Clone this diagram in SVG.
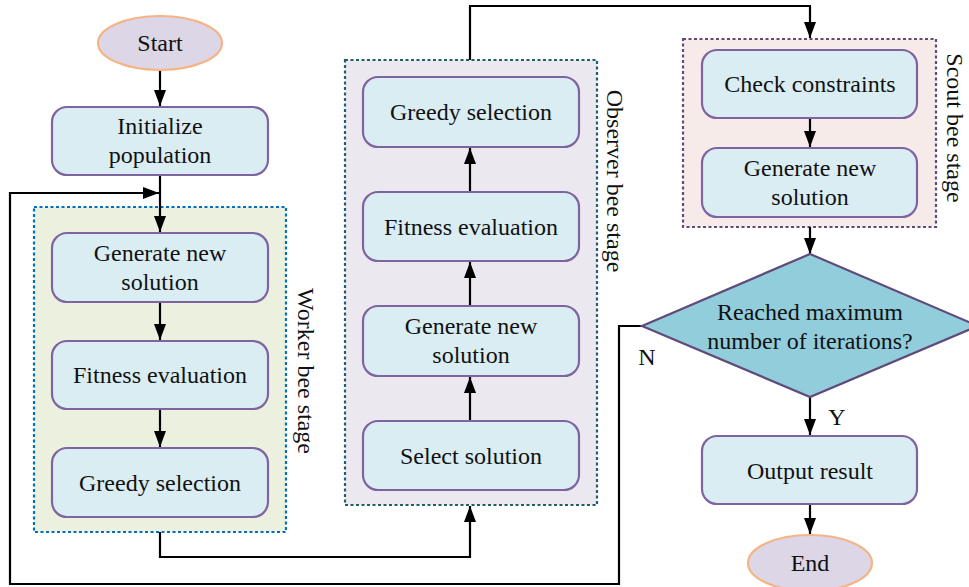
<svg xmlns="http://www.w3.org/2000/svg" width="969" height="587" viewBox="0 0 969 587">
<style>
text{font-family:"Times New Roman",Times,"Liberation Serif",Tinos,"Noto Serif","DejaVu Serif",serif;font-size:24px;fill:#111;text-anchor:middle}
.box{fill:#daedf3;stroke:#8064a2;stroke-width:2.2}
.term{fill:#dcd6e6;stroke:#f5b486;stroke-width:2.2}
.conn{fill:none;stroke:#000;stroke-width:2.2}
</style>
<defs>
<marker id="ah" markerUnits="userSpaceOnUse" markerWidth="17" markerHeight="13" refX="16" refY="6" orient="auto">
<path d="M0,0 L16,6 L0,12 z" fill="#000"/>
</marker>
</defs>
<g id="stages">
<g id="worker-stage">
<rect x="34" y="207" width="252" height="325" fill="#ebf1de" stroke="#0070c0" stroke-width="2.2" stroke-dasharray="3 2.5"/>
<text transform="translate(298,371) rotate(90)">Worker bee stage</text>
</g>
<g id="observer-stage">
<rect x="345" y="60" width="252" height="445" fill="#ece8f0" stroke="#215f6e" stroke-width="2.2" stroke-dasharray="3 2.5"/>
<text transform="translate(607,181) rotate(90)">Observer bee stage</text>
</g>
<g id="scout-stage">
<rect x="683" y="39" width="253" height="188" fill="#f7ebea" stroke="#5f4a7a" stroke-width="2.2" stroke-dasharray="3 2.5"/>
<text transform="translate(947,128) rotate(90)">Scout bee stage</text>
</g>
</g>
<g id="connectors">
<path class="conn" d="M160,70 L160,106" marker-end="url(#ah)"/>
<path class="conn" d="M160,175 L160,232" marker-end="url(#ah)"/>
<path class="conn" d="M642,326 L619,326 L619,584 L10,584 L10,193 L159,193" marker-end="url(#ah)"/>
<path class="conn" d="M160,302 L160,340" marker-end="url(#ah)"/>
<path class="conn" d="M160,409 L160,447" marker-end="url(#ah)"/>
<path class="conn" d="M160,532 L160,557 L470,557 L470,506" marker-end="url(#ah)"/>
<path class="conn" d="M470,421 L470,377" marker-end="url(#ah)"/>
<path class="conn" d="M470,306 L470,262" marker-end="url(#ah)"/>
<path class="conn" d="M470,192 L470,148" marker-end="url(#ah)"/>
<path class="conn" d="M470,60 L470,6 L810,6 L810,38" marker-end="url(#ah)"/>
<path class="conn" d="M810,118 L810,147" marker-end="url(#ah)"/>
<path class="conn" d="M810,227 L810,254" marker-end="url(#ah)"/>
<path class="conn" d="M810,397 L810,435" marker-end="url(#ah)"/>
<path class="conn" d="M810,504 L810,534" marker-end="url(#ah)"/>
</g>
<g id="start">
<ellipse class="term" cx="160" cy="43" rx="62" ry="27"/>
<text x="160" y="51">Start</text>
</g>
<g id="init">
<rect class="box" x="52" y="107" width="216" height="68" rx="15"/>
<text x="160" y="134">Initialize</text>
<text x="160" y="163">population</text>
</g>
<g id="w-gen">
<rect class="box" x="52" y="233" width="216" height="69" rx="15"/>
<text x="160" y="261">Generate new</text>
<text x="160" y="290">solution</text>
</g>
<g id="w-fit">
<rect class="box" x="52" y="341" width="216" height="68" rx="15"/>
<text x="160" y="383">Fitness evaluation</text>
</g>
<g id="w-greedy">
<rect class="box" x="52" y="448" width="216" height="69" rx="15"/>
<text x="160" y="491">Greedy selection</text>
</g>
<g id="o-greedy">
<rect class="box" x="363" y="77" width="216" height="70" rx="15"/>
<text x="471" y="120">Greedy selection</text>
</g>
<g id="o-fit">
<rect class="box" x="363" y="192" width="216" height="69" rx="15"/>
<text x="471" y="235">Fitness evaluation</text>
</g>
<g id="o-gen">
<rect class="box" x="363" y="306" width="216" height="70" rx="15"/>
<text x="471" y="334">Generate new</text>
<text x="471" y="363">solution</text>
</g>
<g id="o-select">
<rect class="box" x="363" y="421" width="216" height="69" rx="15"/>
<text x="471" y="464">Select solution</text>
</g>
<g id="s-check">
<rect class="box" x="702" y="50" width="215" height="68" rx="15"/>
<text x="810" y="92">Check constraints</text>
</g>
<g id="s-gen">
<rect class="box" x="702" y="148" width="215" height="69" rx="15"/>
<text x="810" y="176">Generate new</text>
<text x="810" y="205">solution</text>
</g>
<g id="decision">
<polygon points="810,254 978,326 810,397 642,326" fill="#92cddc" stroke="#5f4a7a" stroke-width="2.2"/>
<text x="810" y="320">Reached maximum</text>
<text x="810" y="349">number of iterations?</text>
</g>
<g id="output">
<rect class="box" x="702" y="436" width="215" height="68" rx="15"/>
<text x="810" y="479">Output result</text>
</g>
<g id="end">
<ellipse class="term" cx="810" cy="563" rx="62" ry="28"/>
<text x="810" y="571">End</text>
</g>
<g id="labels">
<text x="647" y="365">N</text>
<text x="837" y="425">Y</text>
</g>
</svg>
